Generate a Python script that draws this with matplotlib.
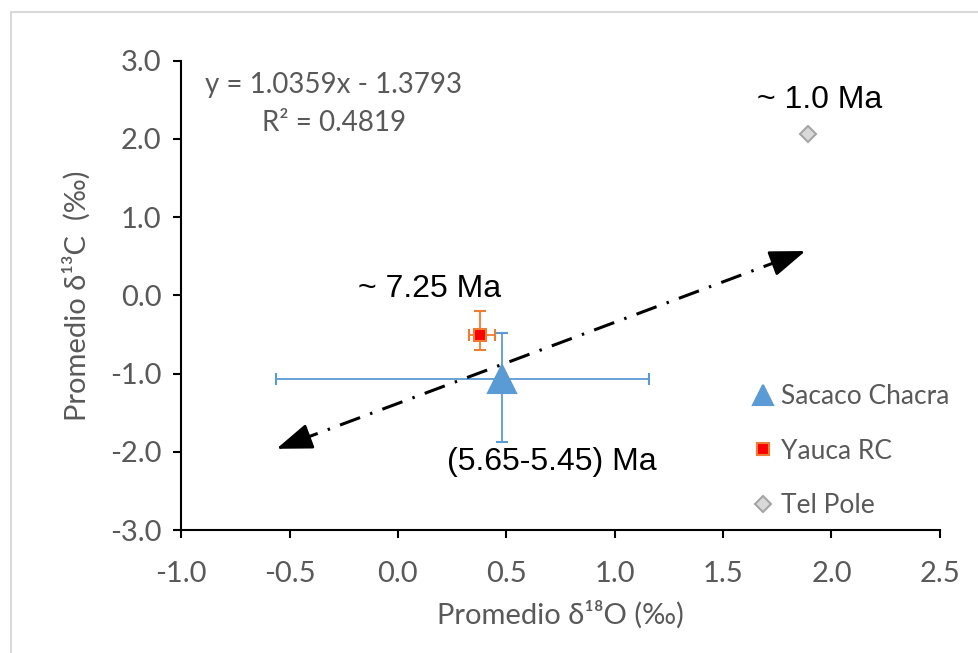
import matplotlib.pyplot as plt
from matplotlib.patches import Rectangle
from matplotlib.lines import Line2D

# datos
sitios = ['Sacaco Chacra', 'Yauca RC', 'Tel Pole']
d18O = [0.48, 0.38, 1.89]
d13C = [-1.07, -0.51, 2.06]
xerr_bajo = [1.04, 0.05, 0.0]
xerr_alto = [0.68, 0.07, 0.0]
yerr_bajo = [0.80, 0.19, 0.0]
yerr_alto = [0.59, 0.31, 0.0]
edades = ['(5.65-5.45) Ma', '~ 7.25 Ma', '~ 1.0 Ma']

# línea de tendencia (ecuación mostrada)
pendiente = 1.0359
intercepto = -1.3793
r2 = 0.4819
tend_x = [-0.56, 1.88]

xticks = [-1.0, -0.5, 0.0, 0.5, 1.0, 1.5, 2.0, 2.5]
yticks = [-3.0, -2.0, -1.0, 0.0, 1.0, 2.0, 3.0]

fuente = ['Lato', 'DejaVu Sans']
gris = '#595959'
plt.rcParams['font.family'] = fuente

fig = plt.figure(figsize=(9.79, 6.53), dpi=100)
ax = fig.add_axes([0.185, 0.188, 0.775, 0.719])

# borde exterior del gráfico
fig.patches.append(Rectangle((11 / 979, -0.1), 1.2, 1 - 12 / 653 + 0.1, transform=fig.transFigure,
                             fill=False, edgecolor='#d9d9d9', lw=1.5))

estilos = [
    dict(marker='^', ms=20, mfc='#5B9BD5', mec='#5B9BD5', ecolor='#5B9BD5'),
    dict(marker='s', ms=9, mfc='#FF0000', mec='#ED7D31', ecolor='#ED7D31'),
    dict(marker='D', ms=8, mfc='#D9D9D9', mec='#A5A5A5', ecolor='#A5A5A5'),
]
manijas = []
for i, nombre in enumerate(sitios):
    st = estilos[i]
    con_error = xerr_bajo[i] > 0
    ax.errorbar(d18O[i], d13C[i],
                xerr=[[xerr_bajo[i]], [xerr_alto[i]]] if con_error else None,
                yerr=[[yerr_bajo[i]], [yerr_alto[i]]] if con_error else None,
                fmt=st['marker'], ms=st['ms'], mfc=st['mfc'], mec=st['mec'], mew=1.5,
                ecolor=st['ecolor'], elinewidth=1.3, capsize=4, capthick=1.3, zorder=3)
    manijas.append(Line2D([], [], ls='none', marker=st['marker'], ms=st['ms'] * (0.75 if i == 0 else 1.0),
                          mfc=st['mfc'], mec=st['mec'], mew=1.5, label=nombre))

# tendencia con doble flecha
ty = [pendiente * x + intercepto for x in tend_x]
dx = (tend_x[1] - tend_x[0]) * 0.04
dy = (ty[1] - ty[0]) * 0.04
ax.plot([tend_x[0] + dx, tend_x[1] - dx], [ty[0] + dy, ty[1] - dy], color='black', lw=2.2,
        linestyle=(0, (7, 3.5, 0.8, 3.5)), zorder=4)
for k, s in [(0, 1), (1, -1)]:
    ax.annotate('', xy=(tend_x[k], ty[k]), xytext=(tend_x[k] + s * dx * 1.5, ty[k] + s * dy * 1.5),
                arrowprops=dict(arrowstyle='-|>,head_length=1.1,head_width=0.4', color='black',
                                lw=2, mutation_scale=20, shrinkA=0, shrinkB=0), zorder=5)

# etiquetas de edad
ax.text(0.71, -2.13, edades[0], fontsize=23, family='Liberation Sans', ha='center', va='center')
ax.text(0.147, 0.08, edades[1], fontsize=23, family='Liberation Sans', ha='center', va='center')
ax.text(1.945, 2.5, edades[2], fontsize=23, family='Liberation Sans', ha='center', va='center')

# ecuación
ax.text(-0.295, 2.69, f'y = {pendiente:.4f}x - {abs(intercepto):.4f}', fontsize=20, color=gris,
        ha='center', va='center')
ax.text(-0.295, 2.21, f'R² = {r2:.4f}', fontsize=20, color=gris, ha='center', va='center')

ax.set_xlim(-1.0, 2.5)
ax.set_ylim(-3.0, 3.0)
ax.set_xticks(xticks)
ax.set_yticks(yticks)
ax.set_xticklabels([f'{v:.1f}' for v in xticks])
ax.set_yticklabels([f'{v:.1f}' for v in yticks])
ax.tick_params(axis='both', labelsize=21, labelcolor=gris, width=1.5, length=6, direction='out')
ax.tick_params(axis='x', pad=16)
ax.tick_params(axis='y', pad=8)
for lado in ['top', 'right']:
    ax.spines[lado].set_visible(False)
for lado in ['left', 'bottom']:
    ax.spines[lado].set_linewidth(1.5)

ax.set_xlabel('Promedio δ¹⁸O (‰)', fontsize=21, color=gris, labelpad=10)
ax.set_ylabel('Promedio δ¹³C  (‰)', fontsize=21, color=gris, labelpad=14)

ax.legend(handles=manijas, loc='upper left', bbox_to_anchor=(0.7555, 0.432), bbox_transform=fig.transFigure,
          frameon=False, fontsize=19, labelcolor=gris, handlelength=0.8, handletextpad=0.28,
          labelspacing=1.12, borderpad=0)

plt.savefig('out.png', dpi=100)
